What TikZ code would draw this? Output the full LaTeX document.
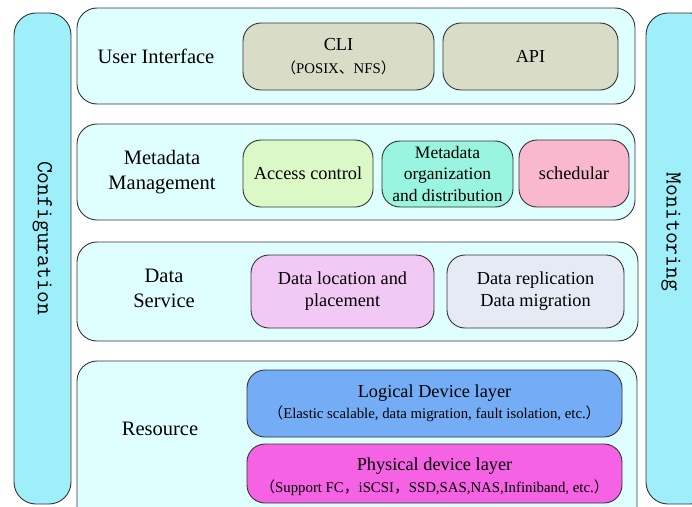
\documentclass[tikz,border=0pt]{standalone}
\usepackage{fontspec}
\setmainfont{Liberation Serif}
\newfontfamily\cjk{Noto Sans CJK SC}
\definecolor{layerc}{HTML}{DFFFFF}
\definecolor{barc}{HTML}{9EEFF9}
\definecolor{clic}{HTML}{D9DCC6}
\definecolor{accc}{HTML}{DAF9C6}
\definecolor{metac}{HTML}{99F5DF}
\definecolor{schc}{HTML}{F9B8CE}
\definecolor{locc}{HTML}{F2C8F4}
\definecolor{repc}{HTML}{E6EAF4}
\definecolor{logc}{HTML}{74ADF5}
\definecolor{phyc}{HTML}{F562E4}
\definecolor{edgec}{HTML}{333333}
\begin{document}
\begin{tikzpicture}[x=1pt,y=-1pt,
  layer/.style={draw=edgec, fill=layerc, rounded corners=20pt, line width=0.9pt},
  bar/.style={draw=edgec, fill=barc, rounded corners=22pt, line width=0.9pt},
  ibox/.style={draw=edgec, rounded corners=18pt, line width=0.9pt},
  llbl/.style={align=center, font=\fontsize{20.5}{25}\selectfont, inner sep=0pt},
  ilbl/.style={align=center, font=\fontsize{18.3}{22}\selectfont, inner sep=0pt},
  sub/.style={font=\fontsize{14.8}{17}\selectfont, inner sep=0pt},
  vtxt/.style={rotate=-90, font=\ttfamily\fontsize{23}{26}\selectfont, inner sep=0pt}
]
\useasboundingbox (0,0) rectangle (692,506);
\clip (0,0) rectangle (692,506);
% side bars
\draw[bar] (14,13) rectangle (71,504);
\draw[bar] (646,13) rectangle (712,504);
\node[vtxt] (conf) at (42.5,238) {Configuration};
\node[vtxt] (mon) at (671,232) {Monitoring};
% layers
\draw[layer] (77,8) rectangle (635,104);
\draw[layer] (77,124) rectangle (635,220);
\draw[layer] (77,242) rectangle (638,341);
\draw[layer] (77,361) rectangle (637,530);
\node[llbl] (ui) at (156,56) {User Interface};
\node[llbl] (mm) at (162,172) {Metadata\\Management};
\node[llbl] (ds) at (164,288) {Data\\Service};
\node[llbl] (res) at (160,429) {Resource};
% user interface boxes
\draw[ibox, fill=clic] (243,23) rectangle (434,90);
\node[ilbl] (cli) at (338.5,45) {CLI};
\node[sub] (clisub) at (338.5,68) {{\cjk （}POSIX{\cjk 、}NFS{\cjk ）}};
\draw[ibox, fill=clic] (443,23) rectangle (618,90);
\node[ilbl] (api) at (530.5,56) {API};
% metadata boxes
\draw[ibox, fill=accc] (243,140) rectangle (373,207);
\node[ilbl] (acc) at (308,173) {Access control};
\draw[ibox, fill=metac] (382,141) rectangle (513,207);
\node[ilbl, font=\fontsize{17.5}{21.5}\selectfont] (morg) at (447.5,174) {Metadata\\organization\\and distribution};
\draw[ibox, fill=schc] (519,140) rectangle (629,207);
\node[ilbl] (sch) at (574,173) {schedular};
% data service boxes
\draw[ibox, fill=locc] (251,255) rectangle (434,328);
\node[ilbl] (loc) at (342.5,291) {Data location and\\placement};
\draw[ibox, fill=repc] (447,255) rectangle (624,328);
\node[ilbl] (rep) at (535.5,291) {Data replication\\Data migration};
% resource boxes
\draw[ibox, fill=logc] (247,370) rectangle (622,437);
\node[ilbl] (log) at (434.5,393) {Logical Device layer};
\node[sub] (logsub) at (434.5,414) {{\cjk （}Elastic scalable, data migration, fault isolation, etc.{\cjk ）}};
\draw[ibox, fill=phyc] (247,444) rectangle (622,503);
\node[ilbl] (phy) at (434.5,466) {Physical device layer};
\node[sub] (physub) at (434.5,488) {{\cjk （}Support FC{\cjk ，}iSCSI{\cjk ，}SSD,SAS,NAS,Infiniband, etc.{\cjk ）}};
\end{tikzpicture}
\end{document}
